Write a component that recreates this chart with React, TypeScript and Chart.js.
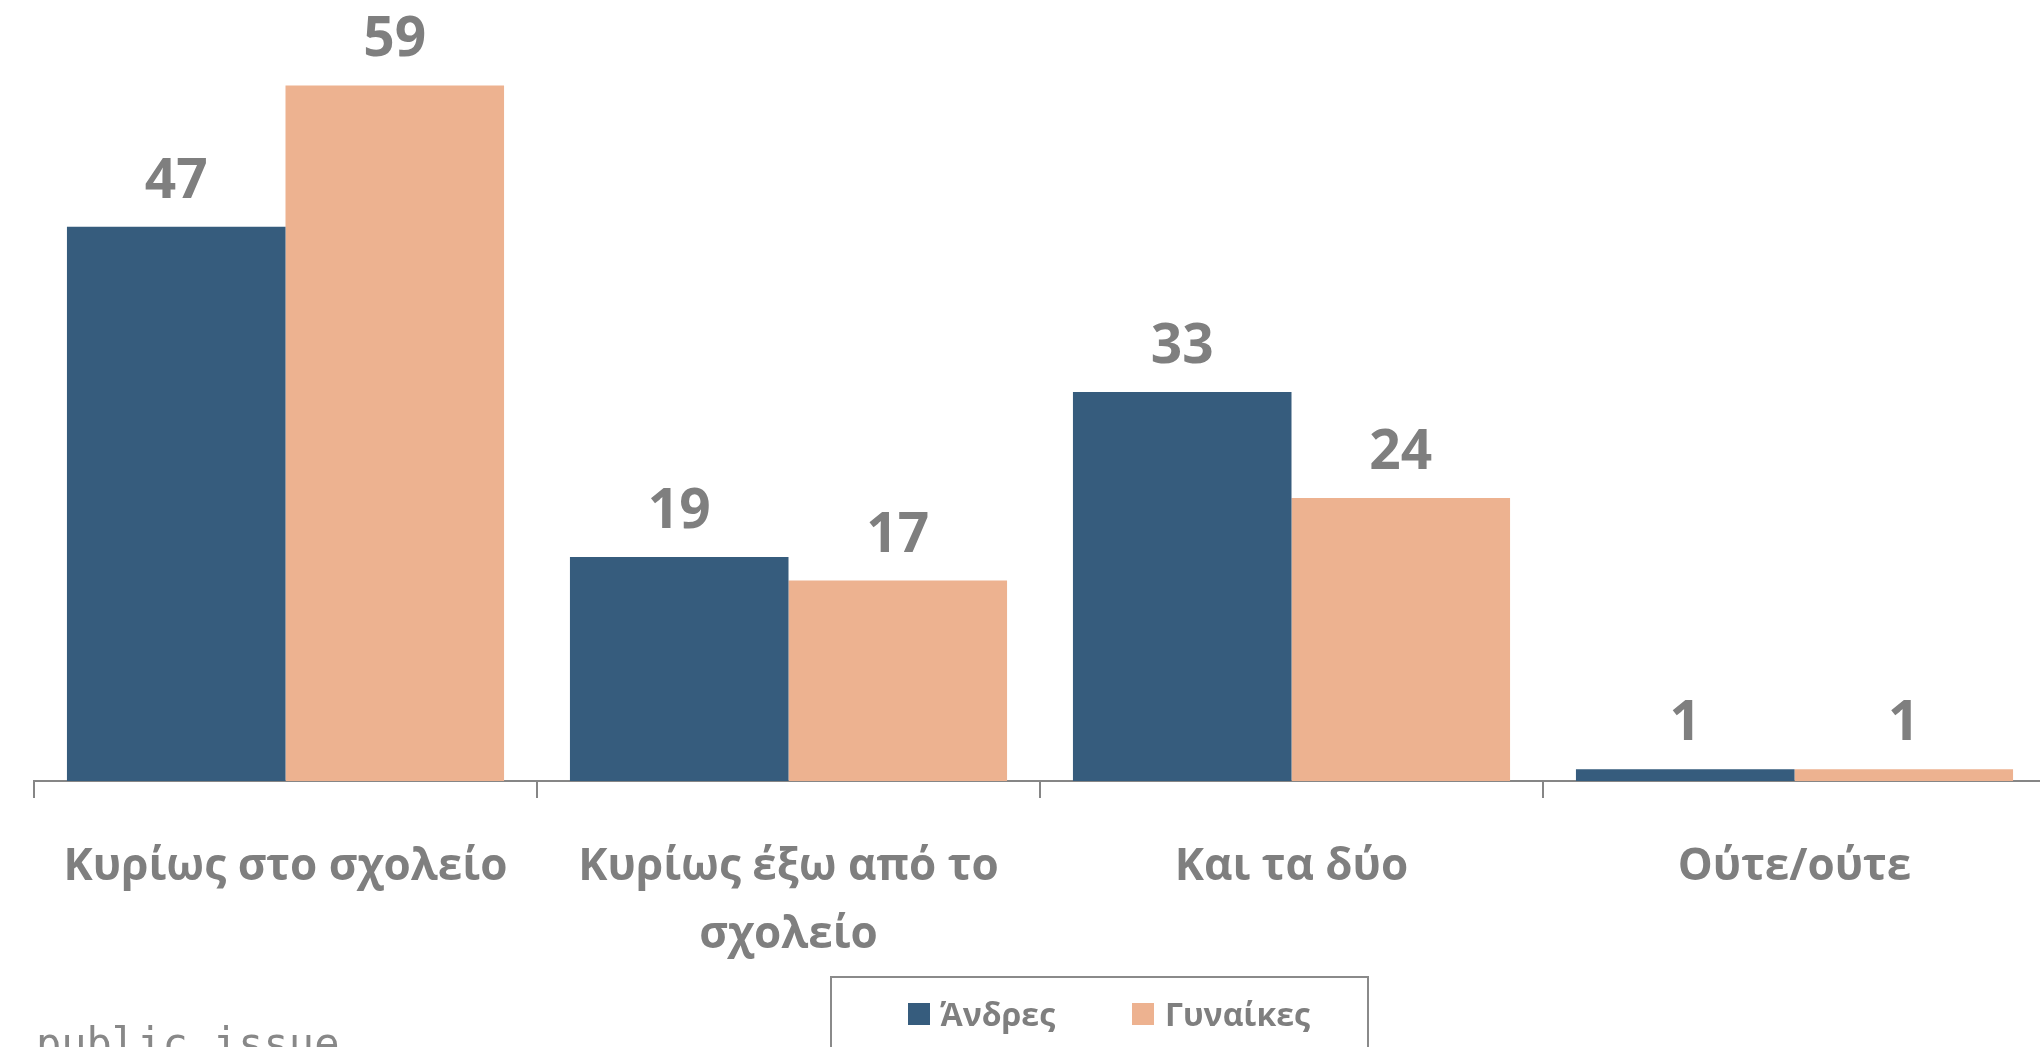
import React, { useEffect, useRef } from "react";
import { Chart, registerables } from "chart.js";

Chart.register(...registerables);

const categories: (string | string[])[] = [
  "Κυρίως στο σχολείο",
  ["Κυρίως έξω από το", "σχολείο"],
  "Και τα δύο",
  "Ούτε/ούτε",
];
const seriesNames = ["Άνδρες", "Γυναίκες"];
const men = [47, 19, 33, 1];
const women = [59, 17, 24, 1];
const colors = ["#365C7D", "#EDB290"];

const W = 2050;
const H = 1047;
const AXIS_Y = 781;
const TEXT_GRAY = "#7f7f7f";
const FONT = "'Open Sans', 'Noto Sans', sans-serif";

const labelsPlugin = {
  id: "valueLabels",
  afterDatasetsDraw(chart: any) {
    const ctx = chart.ctx;
    ctx.save();
    ctx.fillStyle = TEXT_GRAY;
    ctx.font = `bold 55px ${FONT}`;
    ctx.textAlign = "center";
    ctx.textBaseline = "alphabetic";
    chart.data.datasets.forEach((ds: any, i: number) => {
      const meta = chart.getDatasetMeta(i);
      meta.data.forEach((bar: any, j: number) => {
        ctx.fillText(String(ds.data[j]), bar.x, bar.y - 29);
      });
    });
    ctx.restore();
  },
};

const extrasPlugin = {
  id: "extras",
  afterDraw(chart: any) {
    const ctx = chart.ctx;
    ctx.save();
    // legend box
    ctx.strokeStyle = "#8a8a8a";
    ctx.lineWidth = 2;
    ctx.strokeRect(831, 977, 537, 120);
    const items = [
      { x: 908, tx: 940 },
      { x: 1132, tx: 1165 },
    ];
    ctx.font = `bold 32px ${FONT}`;
    ctx.textBaseline = "alphabetic";
    ctx.textAlign = "left";
    chart.data.datasets.forEach((ds: any, i: number) => {
      const it = items[i];
      ctx.fillStyle = ds.backgroundColor;
      ctx.fillRect(it.x, 1003, 22, 22);
      ctx.fillStyle = TEXT_GRAY;
      ctx.fillText(ds.label, it.tx, 1026);
    });
    // watermark
    ctx.fillStyle = "#888888";
    ctx.font = `42px 'DejaVu Sans Mono', monospace`;
    ctx.fillText("public issue", 36, 1058);
    ctx.restore();
  },
};

export default function App() {
  const ref = useRef<HTMLCanvasElement | null>(null);
  useEffect(() => {
    if (!ref.current) return;
    const chart = new Chart(ref.current, {
      type: "bar",
      data: {
        labels: categories,
        datasets: [
          { label: seriesNames[0], data: men, backgroundColor: colors[0] },
          { label: seriesNames[1], data: women, backgroundColor: colors[1] },
        ],
      },
      options: {
        responsive: false,
        animation: false,
        devicePixelRatio: 1,
        layout: { padding: { left: 34, right: 4, top: 0, bottom: 0 } },
        datasets: { bar: { categoryPercentage: 0.869, barPercentage: 1 } },
        plugins: { legend: { display: false }, tooltip: { enabled: false } },
        scales: {
          y: { display: false, min: 0, max: AXIS_Y / 11.79 },
          x: {
            afterFit: (scale: any) => {
              scale.height = H - AXIS_Y;
            },
            grid: {
              display: true,
              offset: true,
              drawOnChartArea: false,
              drawTicks: true,
              tickLength: 17,
              tickWidth: 2,
              color: "#868686",
              lineWidth: 2,
            },
            border: { display: true, color: "#868686", width: 2 },
            ticks: {
              color: TEXT_GRAY,
              padding: 35,
              maxRotation: 0,
              autoSkip: false,
              font: { family: FONT, size: 44, weight: "bold", lineHeight: 68 / 44 },
            },
          },
        },
      },
      plugins: [labelsPlugin, extrasPlugin],
    });
    return () => chart.destroy();
  }, []);
  return (
    <div
      style={{
        position: "fixed",
        left: 0,
        top: 0,
        width: 2040,
        height: 1047,
        overflow: "hidden",
        background: "#fff",
      }}
    >
      <canvas ref={ref} width={W} height={H} style={{ width: W, height: H, display: "block" }} />
    </div>
  );
}
